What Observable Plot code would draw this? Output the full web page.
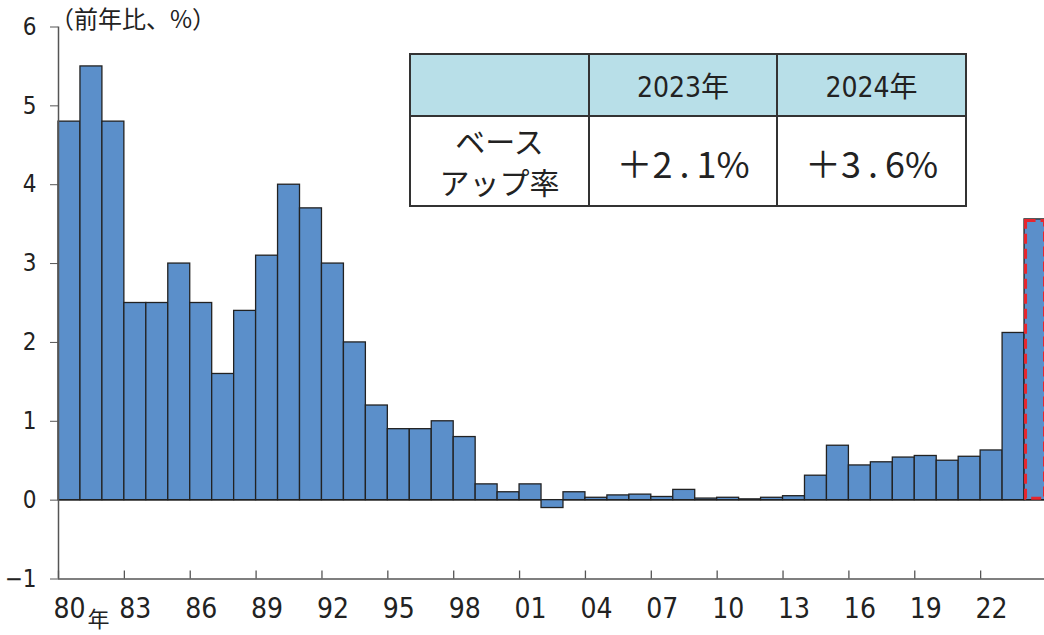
<!DOCTYPE html>
<html>
<head>
<meta charset="utf-8">
<script src="https://cdn.jsdelivr.net/npm/d3@7"></script>
<script src="https://cdn.jsdelivr.net/npm/@observablehq/plot@0.6"></script>
<style>
  html, body { margin: 0; padding: 0; background: #fff; overflow: hidden; }
  #wrap { position: relative; width: 1044px; height: 635px; overflow: hidden; }
  #chart svg { position: absolute; left: 0; top: 0; max-width: none; }
  #ytitle { position: absolute; left: 50px; top: 0px; font-family: "Noto Sans CJK JP", sans-serif; font-size: 24px; color: #222; white-space: nowrap; }
  #tbl { position: absolute; left: 409px; top: 53px; width: 558px; height: 154px; box-sizing: border-box;
         border: 2px solid #333; display: grid; grid-template-columns: 179px 188px auto; grid-template-rows: 62px auto; }
  #tbl > div { display: flex; align-items: center; justify-content: center; color: #222; box-sizing: border-box; }
  #tbl .h { background: #b8dfe8; border-bottom: 2px solid #333; font-family: "Liberation Sans Narrow", "DejaVu Sans Condensed", "Noto Sans CJK JP", sans-serif; font-size: 28px; }
  #tbl .c1 { border-right: 2px solid #333; }
  #tbl .lab { font-family: "Noto Sans CJK JP", sans-serif; font-size: 30px; line-height: 41px; text-align: center; flex-direction: column; }
  #tbl .val { font-family: "Noto Sans CJK JP", sans-serif; font-size: 36px; padding-top: 2px; }
  #tbl .val .dot { display: inline-block; width: 24px; text-align: center; }
</style>
</head>
<body>
<div id="wrap">
  <div id="chart"></div>
  <div id="ytitle"></div>
  <div id="tbl"></div>
</div>
<script>
// ---- data ----
const years = [1980, 1981, 1982, 1983, 1984, 1985, 1986, 1987, 1988, 1989,
               1990, 1991, 1992, 1993, 1994, 1995, 1996, 1997, 1998, 1999,
               2000, 2001, 2002, 2003, 2004, 2005, 2006, 2007, 2008, 2009,
               2010, 2011, 2012, 2013, 2014, 2015, 2016, 2017, 2018, 2019,
               2020, 2021, 2022, 2023, 2024];
const values = [4.8, 5.5, 4.8, 2.5, 2.5, 3.0, 2.5, 1.6, 2.4, 3.1,
                4.0, 3.7, 3.0, 2.0, 1.2, 0.9, 0.9, 1.0, 0.8, 0.2,
                0.1, 0.2, -0.1, 0.1, 0.03, 0.06, 0.07, 0.04, 0.13, 0.02,
                0.03, 0.01, 0.03, 0.05, 0.31, 0.69, 0.44, 0.48, 0.54, 0.56,
                0.50, 0.55, 0.63, 2.12, 3.56];
const highlightYear = 2024;
const tickYears = [1980, 1983, 1986, 1989, 1992, 1995, 1998, 2001, 2004, 2007, 2010, 2013, 2016, 2019, 2022];
const tickLabels = ["80", "83", "86", "89", "92", "95", "98", "01", "04", "07", "10", "13", "16", "19", "22"];
const yTicks = [-1, 0, 1, 2, 3, 4, 5, 6];
const yearUnit = "年";
const yTitle = "（前年比、%）";
const tableHeader = ["", "2023年", "2024年"];
const tableRowLabel = ["ベース", "アップ率"];
const tableValues = ["＋2．1%", "＋3．6%"];

// ---- chart ----
const data = years.map((year, i) => ({year, value: values[i]}));
const narrow = '"Liberation Sans Narrow", "DejaVu Sans Condensed", sans-serif';
const cjk = '"Noto Sans CJK JP", sans-serif';
const axisColor = "#555";

const chart = Plot.plot({
  width: 1044,
  height: 635,
  marginLeft: 58, marginRight: 0, marginTop: 27, marginBottom: 57,
  x: {type: "linear", domain: [1980, 2025], range: [58, 1046], axis: null},
  y: {domain: [-1, 6], range: [578.5, 26.5], axis: null},
  style: {background: "white"},
  marks: [
    Plot.ruleY([0], {x1: 1980, x2: 2025, stroke: "#777", strokeWidth: 1.5}),
    Plot.rectY(data, {x1: "year", x2: d => d.year + 1, y: "value",
      fill: "#5b8fca", stroke: "#222", strokeWidth: 1.3}),
    Plot.rectY(data.filter(d => d.year === highlightYear), {x1: "year", x2: d => d.year + 1, y: "value",
      inset: 1.5, fill: "none", stroke: "#e8252d", strokeWidth: 3, strokeDasharray: "10,5"}),
    Plot.ruleX([1980], {y1: -1, y2: 6, stroke: axisColor, strokeWidth: 1.5}),
    Plot.ruleY([-1], {x1: 1980, x2: 2025, stroke: axisColor, strokeWidth: 1.5}),
    Plot.axisY(yTicks, {tickSize: 8, tickPadding: 14, fontSize: 24, fontFamily: narrow,
      stroke: axisColor, fill: "#222", label: null,
      tickFormat: d => d < 0 ? "\u2212" + (-d) : String(d)}),
    Plot.ruleX(tickYears, {y1: -1, y2: -1, insetTop: -8, stroke: axisColor, strokeWidth: 1.3}),
    Plot.text(tickYears, {x: d => d + 0.5, y: () => -1, dy: 30, text: (d, i) => tickLabels[i],
      fontSize: 28, fontFamily: narrow, fill: "#222"}),
    Plot.text([tickYears[0]], {x: d => d + 0.5, y: () => -1, dx: 29, dy: 41, text: () => yearUnit,
      fontSize: 22, fontFamily: cjk, fill: "#222"})
  ]
});
document.getElementById("chart").appendChild(chart);
document.getElementById("ytitle").textContent = yTitle;

// ---- table ----
const tbl = document.getElementById("tbl");
tableHeader.forEach((t, i) => {
  const d = document.createElement("div");
  d.className = "h" + (i < 2 ? " c1" : "");
  d.textContent = t;
  tbl.appendChild(d);
});
const lab = document.createElement("div");
lab.className = "lab c1";
tableRowLabel.forEach(t => { const s = document.createElement("span"); s.textContent = t; lab.appendChild(s); });
tbl.appendChild(lab);
tableValues.forEach((t, i) => {
  const d = document.createElement("div");
  d.className = "val" + (i < 1 ? " c1" : "");
  const parts = t.split("．");
  d.appendChild(document.createTextNode(parts[0]));
  const dot = document.createElement("span");
  dot.className = "dot";
  dot.textContent = ".";
  d.appendChild(dot);
  d.appendChild(document.createTextNode(parts[1]));
  tbl.appendChild(d);
});
</script>
</body>
</html>
